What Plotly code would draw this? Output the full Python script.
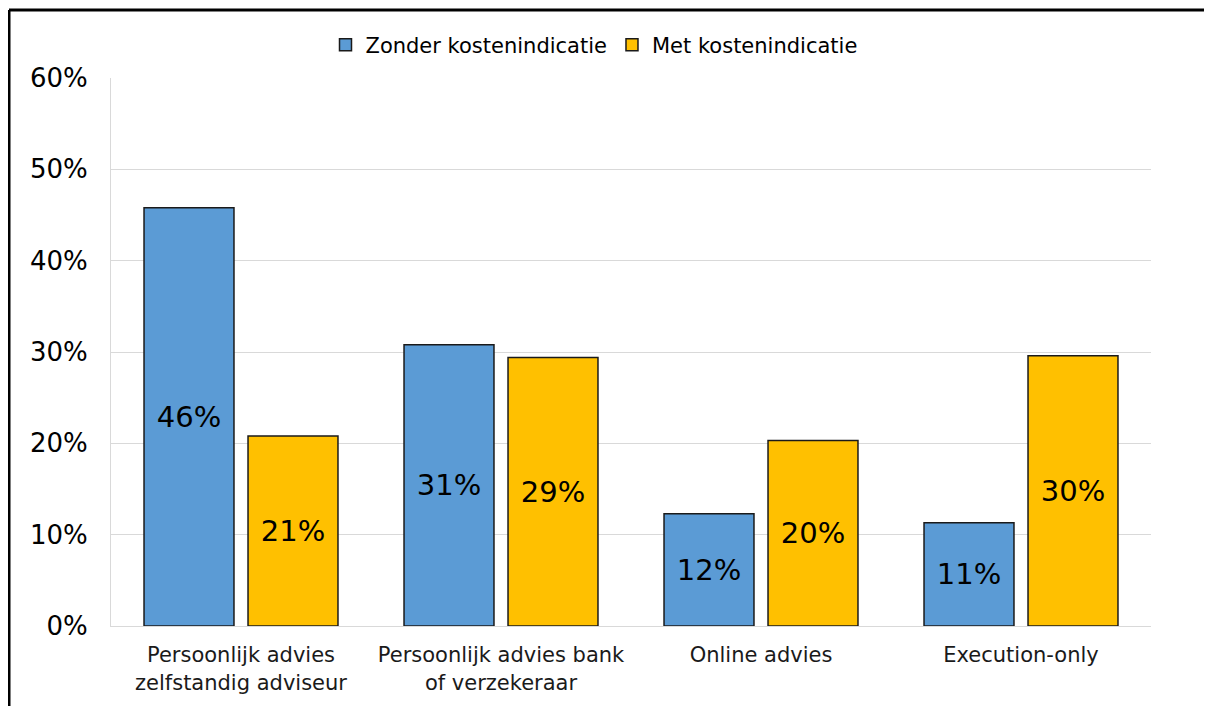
import plotly.graph_objects as go

categories = ["Persoonlijk advies<br>zelfstandig adviseur",
              "Persoonlijk advies bank<br>of verzekeraar",
              "Online advies",
              "Execution-only"]
series_names = ["Zonder kostenindicatie", "Met kostenindicatie"]
zonder = [0.458, 0.308, 0.123, 0.113]
met = [0.208, 0.294, 0.203, 0.296]
tick_vals = [0, 0.1, 0.2, 0.3, 0.4, 0.5, 0.6]

FONT = "DejaVu Sans"
colors = ["#5b9bd5", "#ffc000"]

# page has ~8px body offset; plot area target in screenshot: x 110..1150, y 78..626
OX, OY = 7, 8
L, R, T, B = 110 - OX, 1150 - OX, 78 - OY, 626 - OY
W, H = 1212, 706

fig = go.Figure()
for name, vals, col in zip(series_names, [zonder, met], colors):
    fig.add_trace(go.Bar(
        x=categories, y=vals, name=name,
        marker=dict(color=col, line=dict(color="#1a1a1a", width=1.5)),
        text=[f"{round(v*100):.0f}%" for v in vals],
        textposition="inside", insidetextanchor="middle",
        textfont=dict(family=FONT, size=29, color="black"),
        textangle=0,
    ))

fig.update_layout(
    width=W, height=H,
    margin=dict(l=L, r=W - R, t=T, b=H - B),
    paper_bgcolor="white", plot_bgcolor="white",
    barmode="group", bargap=0.2, bargroupgap=0.135,
    font=dict(family=FONT, color="black"),
    uniformtext=dict(mode=False),
    legend=dict(orientation="h", x=(593 - 110) / 1040, xanchor="center",
                y=(626 - 45) / 548, yanchor="middle",
                font=dict(family=FONT, size=21, color="black"),
                bgcolor="rgba(0,0,0,0)", itemwidth=30),
    showlegend=True,
)
fig.update_yaxes(range=[0, 0.6], tickvals=tick_vals, tickformat=".0%",
                 showgrid=True, gridcolor="#d9d9d9", gridwidth=1,
                 showline=True, linecolor="#d9d9d9", linewidth=1,
                 zeroline=False, ticks="", ticklabelstandoff=17,
                 tickfont=dict(family=FONT, size=26, color="black"))
fig.update_xaxes(showline=True, linecolor="#d9d9d9", linewidth=1,
                 ticks="", tickfont=dict(family=FONT, size=21, color="#1a1a1a"),
                 ticklabelstandoff=10)

# outer frame (top and left edges visible)
def px_x(p):
    return (p - 110) / 1040
def px_y(p):
    return (626 - p) / 548
fig.add_shape(type="line", xref="paper", yref="paper",
              x0=px_x(OX + 1), x1=px_x(1230), y0=px_y(OY + 2), y1=px_y(OY + 2),
              line=dict(color="black", width=3))
fig.add_shape(type="line", xref="paper", yref="paper",
              x0=px_x(OX + 1), x1=px_x(OX + 1), y0=px_y(OY + 2), y1=px_y(730),
              line=dict(color="black", width=3))

fig.write_html("out.html")
